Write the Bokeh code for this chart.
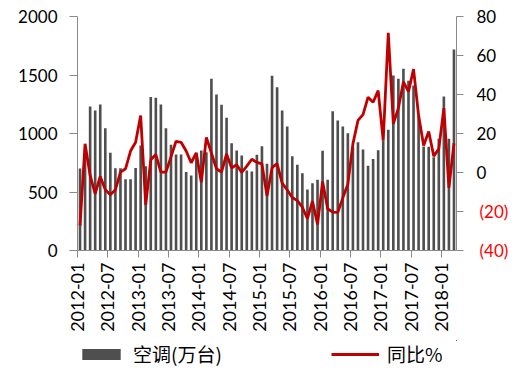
import math
from bokeh.plotting import figure
from bokeh.layouts import column
from bokeh.models import (Range1d, LinearAxis, FixedTicker, Legend, LegendItem,
                          ColumnDataSource)
from bokeh.embed import file_html
from bokeh.resources import INLINE

# ---- data ----
months = [f"{y}-{m:02d}" for y in range(2012, 2019) for m in range(1, 13)][:75]

ac_output = [
    700, 880, 1231, 1197, 1248, 1045, 835, 704, 704, 610, 610, 705,      # 2012
    897, 720, 1311, 1305, 1248, 1045, 903, 820, 820, 670, 641, 790,      # 2013
    855, 840, 1467, 1333, 1245, 1134, 917, 855, 812, 684, 675, 818,      # 2014
    892, 741, 1493, 1396, 1197, 1060, 806, 732, 661, 521, 575, 604,      # 2015
    852, 604, 1191, 1111, 1060, 1003, 880, 926, 863, 724, 782, 857,      # 2016
    940, 1032, 1496, 1467, 1553, 1450, 1410, 1150, 889, 886, 798, 955,   # 2017
    1316, 955, 1718,                                                     # 2018
]

yoy_pct = [
    -27.2, 14.7, -1.5, -10.9, -2.0, -8.9, -11.4, -8.9, 0.2, 1.9, 11.0, 15.5,
    29.2, -16.6, 6.5, 9.2, 0.2, 0.2, 8.0, 16.0, 15.5, 11.0, 5.0, 10.1,
    -5.0, 18.0, 10.0, 1.9, 0.2, 9.5, 2.3, 4.0, 0.0, 3.3, 6.8, 5.2,
    4.4, -12.0, 2.5, 4.6, -5.4, -9.0, -12.8, -14.4, -17.8, -23.7, -14.7, -26.7,
    -4.6, -18.6, -20.3, -20.5, -13.0, -6.0, 14.7, 26.7, 29.7, 38.6, 36.0, 42.0,
    16.4, 71.6, 25.0, 33.0, 46.5, 41.5, 53.0, 29.2, 13.8, 21.0, 8.4, 12.1,
    33.0, -7.9, 15.0,
]

tick_labels = ["2012-01", "2012-07", "2013-01", "2013-07", "2014-01", "2014-07",
               "2015-01", "2015-07", "2016-01", "2016-07", "2017-01", "2017-07",
               "2018-01"]

left_ticks = [0, 500, 1000, 1500, 2000]
right_ticks = [-40, -20, 0, 20, 40, 60, 80]
neg_ticks = [-40, -20]
neg_labels = ["(40)", "(20)"]

bar_label = "空调(万台)"
line_label = "同比%"

# ---- styles ----
FONT = "Lato"
FS = "17px"
AXIS_COLOR = "#8a8a8a"
BAR_COLOR = "#4f4f4f"
LINE_COLOR = "#C00000"

# ---- main chart ----
x_pos = [i + 0.5 for i in range(len(months))]
src = ColumnDataSource(dict(x=x_pos, month=months, ac=ac_output, yoy=yoy_pct))

p = figure(width=516, height=340, output_backend="svg", toolbar_location=None,
           x_range=Range1d(0, len(months)), y_range=Range1d(0, 2000),
           min_border_left=77, min_border_right=60, min_border_top=16,
           min_border_bottom=90, outline_line_color=None)
p.extra_y_ranges = {"pct": Range1d(-40, 80)}
p.xgrid.visible = False
p.ygrid.visible = False

bars = p.vbar(x="x", top="ac", width=0.52, fill_color=BAR_COLOR,
              line_color=None, source=src)
line = p.line(x="x", y="yoy", y_range_name="pct", line_color=LINE_COLOR,
              line_width=2.8, source=src)

# x axis
tick_pos = [months.index(t) for t in tick_labels]
xa = p.xaxis[0]
xa.ticker = FixedTicker(ticks=tick_pos)
xa.major_label_overrides = {tp: lab for tp, lab in zip(tick_pos, tick_labels)}
xa.major_label_orientation = math.pi / 2
xa.minor_tick_line_color = None
xa.major_tick_out = 7
xa.major_tick_in = 0
xa.axis_line_color = AXIS_COLOR
xa.major_tick_line_color = AXIS_COLOR
xa.major_label_standoff = 5
xa.major_label_text_font = FONT
xa.major_label_text_font_size = "18px"
xa.major_label_text_color = "black"

# left axis
ya = p.yaxis[0]
ya.ticker = FixedTicker(ticks=left_ticks)
ya.minor_tick_line_color = None
ya.major_tick_out = 8
ya.major_tick_in = 0
ya.axis_line_color = AXIS_COLOR
ya.major_tick_line_color = AXIS_COLOR
ya.major_label_standoff = 12
ya.major_label_text_font = FONT
ya.major_label_text_font_size = FS
ya.major_label_text_color = "black"

# right axis (positive labels)
ra = LinearAxis(y_range_name="pct", ticker=FixedTicker(ticks=right_ticks),
                major_label_overrides={t: "" for t in neg_ticks})
ra.minor_tick_line_color = None
ra.major_tick_out = 7
ra.major_tick_in = 0
ra.axis_line_color = AXIS_COLOR
ra.major_tick_line_color = AXIS_COLOR
ra.major_label_standoff = 13
ra.major_label_text_font = FONT
ra.major_label_text_font_size = FS
ra.major_label_text_color = "black"
p.add_layout(ra, "right")

# second right axis: red negative labels, pulled back onto the first axis' label column
rn = LinearAxis(y_range_name="pct", ticker=FixedTicker(ticks=neg_ticks),
                major_label_overrides=dict(zip(neg_ticks, neg_labels)))
rn.minor_tick_line_color = None
rn.major_tick_line_color = None
rn.axis_line_color = None
rn.major_tick_out = 0
rn.major_tick_in = 0
rn.major_label_standoff = -20
rn.major_label_text_font = FONT
rn.major_label_text_font_size = FS
rn.major_label_text_color = "#ff0000"
p.add_layout(rn, "right")

# ---- legend strip (separate figure below the chart) ----
# same series drawn out of view; only their legend swatches show
lg = figure(width=516, height=34, output_backend="svg", toolbar_location=None,
            x_range=Range1d(-3, -2), y_range=Range1d(-3, -2),
            min_border_left=77, min_border_right=0, min_border_top=0,
            min_border_bottom=0, outline_line_color=None)
lg.axis.visible = False
lg.xgrid.visible = False
lg.ygrid.visible = False
lbar = lg.vbar(x="x", top="ac", width=0.52, fill_color=BAR_COLOR, line_color=None,
               source=src)
lline = lg.line(x="x", y="yoy", line_color=LINE_COLOR, line_width=2.8, source=src)

legend = Legend(items=[LegendItem(label=bar_label, renderers=[lbar]),
                       LegendItem(label=line_label, renderers=[lline])],
                orientation="horizontal", location="top_left",
                glyph_width=48, glyph_height=14, label_standoff=8,
                label_width=115, spacing=83, padding=4, margin=0,
                border_line_color=None, background_fill_alpha=0,
                label_text_font="Noto Sans CJK SC", label_text_font_size="19px",
                label_text_color="black")
lg.add_layout(legend, "center")

layout = column(p, lg, spacing=0)
open("out.html", "w").write(file_html(layout, INLINE))
